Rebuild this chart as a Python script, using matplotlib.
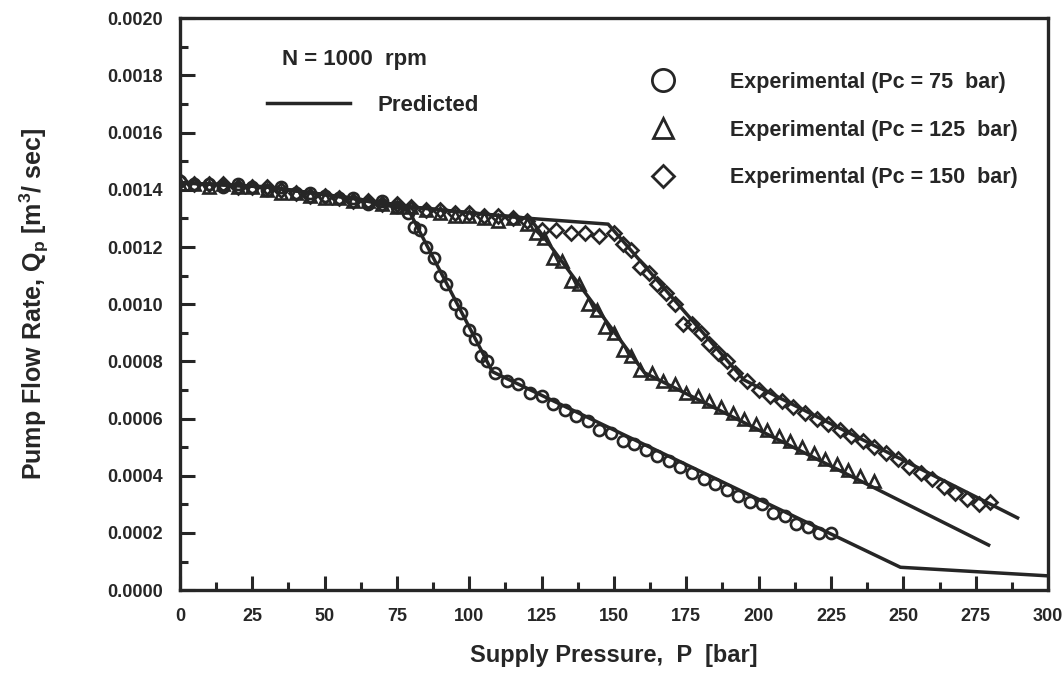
import numpy as np
import matplotlib
matplotlib.use("Agg")
import matplotlib.pyplot as plt
from matplotlib.ticker import MultipleLocator, FormatStrFormatter
from matplotlib.lines import Line2D

plt.rcParams["font.family"] = "Liberation Sans"
plt.rcParams["font.weight"] = "bold"
plt.rcParams["mathtext.fontset"] = "custom"
plt.rcParams["mathtext.rm"] = "Liberation Sans:bold"
plt.rcParams["mathtext.it"] = "Liberation Sans:bold"
plt.rcParams["mathtext.bf"] = "Liberation Sans:bold"

ink = "#262626"

# predicted curves
pred_75_x = [0, 30, 60, 79, 108, 249, 300]
pred_75_y = [0.001425, 0.00141, 0.00137, 0.00133, 0.000764, 0.00008, 0.00005]
pred_125_x = [0, 30, 60, 80, 100, 121, 160.6, 280]
pred_125_y = [0.001425, 0.00141, 0.00137, 0.00134, 0.00132, 0.0013, 0.00076, 0.000155]
pred_150_x = [0, 30, 60, 80, 100, 121, 148, 195, 290]
pred_150_y = [0.001425, 0.00141, 0.00137, 0.00134, 0.00132, 0.0013, 0.00128, 0.000735, 0.00025]

# experimental, Pc = 75 bar
exp_75_x = [0, 5, 10, 15, 20, 25, 30, 35, 40, 45, 50, 55, 60, 65, 70, 75,
            79, 81, 83, 85, 88, 90, 92, 95, 97, 100, 102, 104, 106,
            109, 113, 117, 121, 125, 129, 133, 137, 141, 145, 149, 153, 157, 161,
            165, 169, 173, 177, 181, 185, 189, 193, 197, 201, 205, 209, 213, 217, 221, 225]
exp_75_y = [0.00143, 0.00142, 0.00142, 0.00141, 0.00142, 0.00141, 0.00140, 0.00141,
            0.00139, 0.00139, 0.00138, 0.00137, 0.00137, 0.00135, 0.00136, 0.00134,
            0.00132, 0.00127, 0.00126, 0.00120, 0.00116, 0.00110, 0.00107, 0.00100,
            0.00097, 0.00091, 0.00088, 0.00082, 0.00080,
            0.00076, 0.00073, 0.00072, 0.00069, 0.00068, 0.00065, 0.00063, 0.00061,
            0.00059, 0.00056, 0.00055, 0.00052, 0.00051, 0.00049, 0.00047, 0.00045,
            0.00043, 0.00041, 0.00039, 0.00037, 0.00035, 0.00033, 0.00031, 0.00030,
            0.00027, 0.00026, 0.00023, 0.00022, 0.00020, 0.00020]

# experimental, Pc = 125 bar
exp_125_x = [0, 5, 10, 15, 20, 25, 30, 35, 40, 45, 50, 55, 60, 65, 70, 75, 80, 85,
             90, 95, 100, 105, 110, 115, 120,
             123, 126, 129, 132, 135, 138, 141, 144, 147, 150, 153, 156, 159,
             163, 167, 171, 175, 179, 183, 187, 191, 195, 199, 203, 207, 211, 215,
             219, 223, 227, 231, 235, 240]
exp_125_y = [0.00142, 0.00142, 0.00141, 0.00142, 0.00141, 0.00141, 0.00140, 0.00139,
             0.00139, 0.00138, 0.00137, 0.00137, 0.00136, 0.00136, 0.00135, 0.00134,
             0.00134, 0.00133, 0.00132, 0.00131, 0.00131, 0.00130, 0.00129, 0.00130,
             0.00128,
             0.00125, 0.00123, 0.00116, 0.00115, 0.00108, 0.00107, 0.00100, 0.00098,
             0.00092, 0.00090, 0.00084, 0.00082, 0.00077,
             0.00076, 0.00073, 0.00072, 0.00069, 0.00068, 0.00066, 0.00064, 0.00062,
             0.00060, 0.00058, 0.00056, 0.00054, 0.00052, 0.00050, 0.00048, 0.00046,
             0.00044, 0.00042, 0.00040, 0.00038]

# experimental, Pc = 150 bar
exp_150_x = [0, 5, 10, 15, 20, 25, 30, 35, 40, 45, 50, 55, 60, 65, 70, 75, 80, 85,
             90, 95, 100, 105, 110, 115, 120, 125, 130, 135, 140, 145,
             150, 153, 156, 159, 162, 165, 168, 171, 174, 177, 180, 183, 186, 189, 192,
             196, 200, 204, 208, 212, 216, 220, 224, 228, 232, 236, 240, 244, 248,
             252, 256, 260, 264, 268, 272, 276, 280]
exp_150_y = [0.00143, 0.00142, 0.00142, 0.00142, 0.00141, 0.00141, 0.00141, 0.00140,
             0.00139, 0.00138, 0.00138, 0.00137, 0.00136, 0.00136, 0.00135, 0.00135,
             0.00134, 0.00133, 0.00133, 0.00132, 0.00132, 0.00131, 0.00131, 0.00130,
             0.00129, 0.00126, 0.00126, 0.00125, 0.00125, 0.00124,
             0.00125, 0.00121, 0.00119, 0.00113, 0.00111, 0.00107, 0.00104, 0.00100,
             0.00093, 0.00093, 0.00090, 0.00086, 0.00083, 0.00080, 0.00076,
             0.00073, 0.00070, 0.00068, 0.00066, 0.00064, 0.00062, 0.00060, 0.00058,
             0.00056, 0.00054, 0.00052, 0.00050, 0.00048, 0.00046, 0.00043, 0.00041,
             0.00039, 0.00036, 0.00034, 0.00032, 0.00030, 0.00031]

x_ticks = [0, 25, 50, 75, 100, 125, 150, 175, 200, 225, 250, 275, 300]

fig = plt.figure(figsize=(10.64, 6.76), dpi=100)
ax = fig.add_axes([0.169, 0.127, 0.816, 0.846])

for px, py in [(pred_75_x, pred_75_y), (pred_125_x, pred_125_y), (pred_150_x, pred_150_y)]:
    ax.plot(px, py, color=ink, lw=2.5, solid_capstyle="butt", zorder=2)

mk = dict(linestyle="none", markerfacecolor="none", markeredgecolor=ink,
          markeredgewidth=1.9, markersize=8, zorder=3)
ax.plot(exp_75_x, exp_75_y, marker="o", **mk)
ax.plot(exp_125_x, exp_125_y, marker="^", **mk)
ax.plot(exp_150_x, exp_150_y, marker="D", **dict(mk, markersize=7))

ax.set_xlim(0, 300)
ax.set_ylim(0, 0.0020)
ax.set_xticks(x_ticks)
ax.xaxis.set_minor_locator(MultipleLocator(12.5))
ax.yaxis.set_major_locator(MultipleLocator(0.0002))
ax.yaxis.set_minor_locator(MultipleLocator(0.0001))
ax.yaxis.set_major_formatter(FormatStrFormatter("%.4f"))
ax.tick_params(which="both", direction="in", color=ink, width=2.2, labelsize=13,
               labelcolor=ink, top=False, right=False)
ax.tick_params(axis="x", which="major", length=10, pad=13)
ax.tick_params(axis="x", which="minor", length=6)
ax.tick_params(axis="y", which="major", length=11, pad=12)
ax.tick_params(axis="y", which="minor", length=6)
for s in ax.spines.values():
    s.set_linewidth(2.4)
    s.set_color(ink)

ax.set_xlabel("Supply Pressure,  P  [bar]", fontsize=17, color=ink, fontweight="bold")
ax.xaxis.set_label_coords(0.5, -0.095)
ax.set_ylabel("Pump Flow Rate, Q$_{p}$ [m$^{3}$/ sec]", fontsize=18, color=ink,
              fontweight="bold")
ax.yaxis.set_label_coords(-0.148, 0.5)

ax.text(0.1175, 0.928, "N = 1000  rpm", transform=ax.transAxes, fontsize=16,
        color=ink, fontweight="bold", va="center")

leg1 = ax.legend(handles=[Line2D([0], [0], color=ink, lw=2.5)], labels=["Predicted"],
                 loc="upper left", bbox_to_anchor=(0.0772, 0.9003), frameon=False,
                 handlelength=3.74, handletextpad=1.22, fontsize=16, labelcolor=ink)
ax.add_artist(leg1)

hm = dict(linestyle="none", markerfacecolor="none", markeredgecolor=ink,
          markeredgewidth=2.0)
handles = [Line2D([0], [0], marker="o", markersize=16, **hm),
           Line2D([0], [0], marker="^", markersize=15, **hm),
           Line2D([0], [0], marker="D", markersize=11.5, **hm)]
labels = ["Experimental (Pc = 75  bar)", "Experimental (Pc = 125  bar)",
          "Experimental (Pc = 150  bar)"]
ax.legend(handles=handles, labels=labels, loc="upper left",
          bbox_to_anchor=(0.5157, 0.9406), frameon=False, handlelength=1.5,
          handletextpad=2.37, labelspacing=1.25, fontsize=15.5, labelcolor=ink)

fig.savefig("out.png", dpi=100, facecolor="white")
